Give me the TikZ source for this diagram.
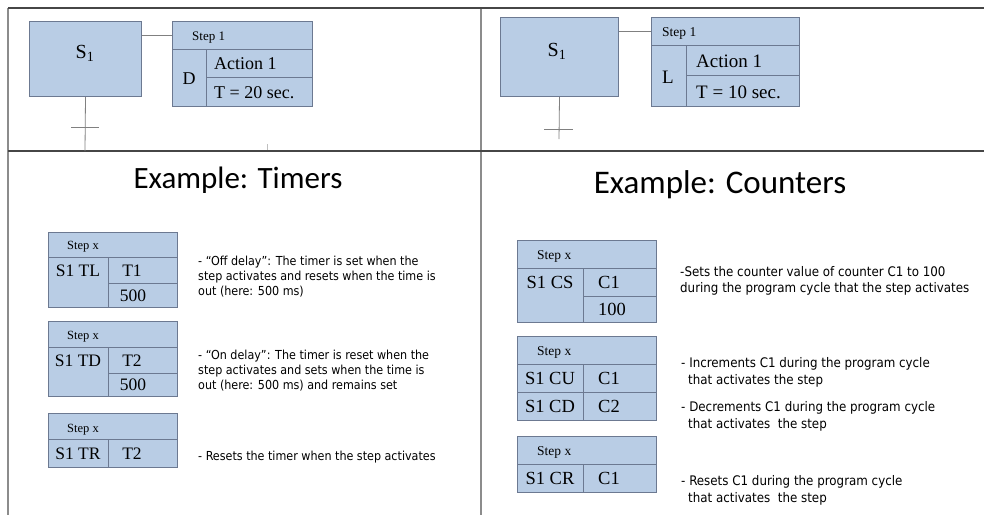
\documentclass[tikz,border=0pt]{standalone}
\usepackage{fontspec}
\setmainfont{Liberation Serif}
\newfontfamily\calib{Carlito}
\newfontfamily\tah{DejaVu Sans Condensed}
\definecolor{fcol}{HTML}{B9CDE5}
\definecolor{bcol}{RGB}{108,121,145}
\definecolor{fline}{RGB}{70,70,70}
\definecolor{gline}{RGB}{140,140,140}
\newcommand\cellat[6]{\node[cell,minimum width=#4pt,minimum height=#5pt] (#1) at (#2,#3) {#6};}
\begin{document}
\begin{tikzpicture}[x=1pt,y=-1pt,
  cell/.style={draw=bcol,fill=fcol,line width=1pt,inner sep=0pt,anchor=north west},
  hdr/.style={inner sep=0pt,anchor=base west,font=\fontsize{12.5}{14}\selectfont},
  ctxt/.style={inner sep=0pt,anchor=base,font=\fontsize{17.5}{20}\selectfont},
  ltxt/.style={inner sep=0pt,anchor=base west,font=\fontsize{17.5}{20}\selectfont},
  desc/.style={inner sep=0pt,anchor=base west,font=\tah\fontsize{12.4}{14}\selectfont},
  rdesc/.style={inner sep=0pt,anchor=base west,font=\tah\fontsize{13.2}{14}\selectfont},
  ttl/.style={inner sep=0pt,anchor=base,font=\calib\fontsize{31}{36}\selectfont},
  wire/.style={draw=gray,line width=0.8pt}]
\useasboundingbox (0,0) rectangle (984,515);
% frame
\draw[gline,line width=1.5pt] (8,8) -- (8,515);
\draw[gline,line width=2pt] (481,8) -- (481,515);
\draw[fline,line width=2.2pt] (8,8) -- (984,8);
\draw[fline,line width=1.8pt] (8,151) -- (984,151);

% ---------- top left
\cellat{sA}{29}{21}{112}{75}{}
\node[inner sep=0pt,anchor=base,font=\fontsize{20}{22}\selectfont] (sAt) at (85,58) {S\textsubscript{1}};
\cellat{hA}{172}{21}{140}{28}{}
\node[hdr,font=\fontsize{13}{14}\selectfont] (hAt) at (192,40) {Step 1};
\cellat{dA}{172}{49}{34}{57}{}
\node[ctxt,font=\fontsize{18}{20}\selectfont] (dAt) at (189,84) {D};
\cellat{aA}{206}{49}{106}{28}{}
\node[ltxt,font=\fontsize{18}{20}\selectfont] (aAt) at (214,69) {Action 1};
\cellat{tA}{206}{77}{106}{29}{}
\node[ltxt,font=\fontsize{18}{20}\selectfont] (tAt) at (214,98) {T = 20 sec.};
\coordinate (vA) at (85,151);
\coordinate (cAl) at (71,127);
\coordinate (cAr) at (99,127);
\draw[wire] (sA.east |- hA.west) -- (hA.west);
\draw[wire] (sA.south) -- (vA);
\draw[wire] (cAl) -- (cAr);
\coordinate (tk1) at (267,144);
\coordinate (tk2) at (267,150);
\draw[gray!50,line width=0.6pt] (tk1) -- (tk2);

% ---------- top right
\cellat{sB}{500}{17}{118}{79}{}
\node[inner sep=0pt,anchor=base,font=\fontsize{20}{22}\selectfont] (sBt) at (557,56) {S\textsubscript{1}};
\cellat{hB}{651}{17}{148}{28}{}
\node[hdr,font=\fontsize{13.5}{14}\selectfont] (hBt) at (662,36) {Step 1};
\cellat{dB}{651}{45}{35}{61}{}
\node[ctxt,font=\fontsize{19}{20}\selectfont] (dBt) at (668,83) {L};
\cellat{aB}{686}{45}{113}{30}{}
\node[ltxt,font=\fontsize{19}{20}\selectfont] (aBt) at (696,67) {Action 1};
\cellat{tB}{686}{75}{113}{31}{}
\node[ltxt,font=\fontsize{19}{20}\selectfont] (tBt) at (696,98) {T = 10 sec.};
\coordinate (vB) at (559,139);
\coordinate (cBl) at (544,129);
\coordinate (cBr) at (573,129);
\draw[wire] (sB.east |- hB.west) -- (hB.west);
\draw[wire] (sB.south) -- (vB);
\draw[wire] (cBl) -- (cBr);

% ---------- titles
\node[ttl] (ttlA) at (238,188) {Example: Timers};
\node[ttl,font=\calib\fontsize{33}{36}\selectfont] (ttlB) at (720,193) {Example: Counters};

% ---------- timers boxes
% box 1
\cellat{t1h}{48}{232}{129}{25}{}
\node[hdr] (t1ht) at (67,249) {Step x};
\cellat{t1a}{48}{257}{60}{50}{}
\cellat{t1b}{108}{257}{69}{26}{}
\cellat{t1c}{108}{283}{69}{24}{}
\node[ctxt] (t1at) at (78,276) {S1 TL};
\node[ctxt] (t1bt) at (132,276) {T1};
\node[ctxt] (t1ct) at (133,301) {500};
% box 2
\cellat{t2h}{48}{321}{129}{26}{}
\node[hdr] (t2ht) at (67,339) {Step x};
\cellat{t2a}{48}{347}{60}{49}{}
\cellat{t2b}{108}{347}{69}{26}{}
\cellat{t2c}{108}{373}{69}{23}{}
\node[ctxt] (t2at) at (78,366) {S1 TD};
\node[ctxt] (t2bt) at (132,366) {T2};
\node[ctxt] (t2ct) at (133,390) {500};
% box 3
\cellat{t3h}{48}{413}{129}{26}{}
\node[hdr] (t3ht) at (67,432) {Step x};
\cellat{t3a}{48}{439}{60}{28}{}
\cellat{t3b}{108}{439}{69}{28}{}
\node[ctxt] (t3at) at (78,459) {S1 TR};
\node[ctxt] (t3bt) at (132,459) {T2};

% ---------- timer texts
\node[desc] (d1a) at (198,265.5) {- “Off delay”: The timer is set when the};
\node[desc] (d1b) at (198,280.5) {step activates and resets when the time is};
\node[desc] (d1c) at (198,295.5) {out (here: 500 ms)};
\node[desc] (d2a) at (198,359) {- “On delay”: The timer is reset when the};
\node[desc] (d2b) at (198,374) {step activates and sets when the time is};
\node[desc] (d2c) at (198,389) {out (here: 500 ms) and remains set};
\node[desc] (d3a) at (198,460) {- Resets the timer when the step activates};

% ---------- counter boxes
\cellat{c1h}{517}{240}{139}{28}{}
\node[hdr,font=\fontsize{13.5}{14}\selectfont] (c1ht) at (537,259) {Step x};
\cellat{c1a}{517}{268}{66}{54}{}
\cellat{c1b}{583}{268}{73}{28}{}
\cellat{c1c}{583}{296}{73}{26}{}
\node[ctxt,font=\fontsize{18.5}{20}\selectfont] (c1at) at (550,288) {S1 CS};
\node[ltxt,font=\fontsize{18.5}{20}\selectfont] (c1bt) at (598,288) {C1};
\node[ltxt,font=\fontsize{18.5}{20}\selectfont] (c1ct) at (598,315) {100};
% box 2
\cellat{c2h}{517}{336}{139}{28}{}
\node[hdr,font=\fontsize{13.5}{14}\selectfont] (c2ht) at (537,355) {Step x};
\cellat{c2a}{517}{364}{66}{28}{}
\cellat{c2b}{583}{364}{73}{28}{}
\cellat{c2c}{517}{392}{66}{28}{}
\cellat{c2d}{583}{392}{73}{28}{}
\node[ctxt,font=\fontsize{18.5}{20}\selectfont] (c2at) at (550,384) {S1 CU};
\node[ltxt,font=\fontsize{18.5}{20}\selectfont] (c2bt) at (598,384) {C1};
\node[ctxt,font=\fontsize{18.5}{20}\selectfont] (c2ct) at (550,412) {S1 CD};
\node[ltxt,font=\fontsize{18.5}{20}\selectfont] (c2dt) at (598,412) {C2};
% box 3
\cellat{c3h}{517}{436}{139}{28}{}
\node[hdr,font=\fontsize{13.5}{14}\selectfont] (c3ht) at (537,455) {Step x};
\cellat{c3a}{517}{464}{66}{28}{}
\cellat{c3b}{583}{464}{73}{28}{}
\node[ctxt,font=\fontsize{18.5}{20}\selectfont] (c3at) at (550,484) {S1 CR};
\node[ltxt,font=\fontsize{18.5}{20}\selectfont] (c3bt) at (598,484) {C1};

% ---------- counter texts
\node[rdesc] (e1a) at (680,276) {-Sets the counter value of counter C1 to 100};
\node[rdesc] (e1b) at (680,292) {during the program cycle that the step activates};
\node[rdesc] (e2a) at (681,367) {- Increments C1 during the program cycle};
\node[rdesc] (e2b) at (688,384) {that activates the step};
\node[rdesc] (e3a) at (681,411) {- Decrements C1 during the program cycle};
\node[rdesc] (e3b) at (688,428) {that activates\ \ the step};
\node[rdesc] (e4a) at (681,485) {- Resets C1 during the program cycle};
\node[rdesc] (e4b) at (688,502) {that activates\ \ the step};
\end{tikzpicture}
\end{document}
